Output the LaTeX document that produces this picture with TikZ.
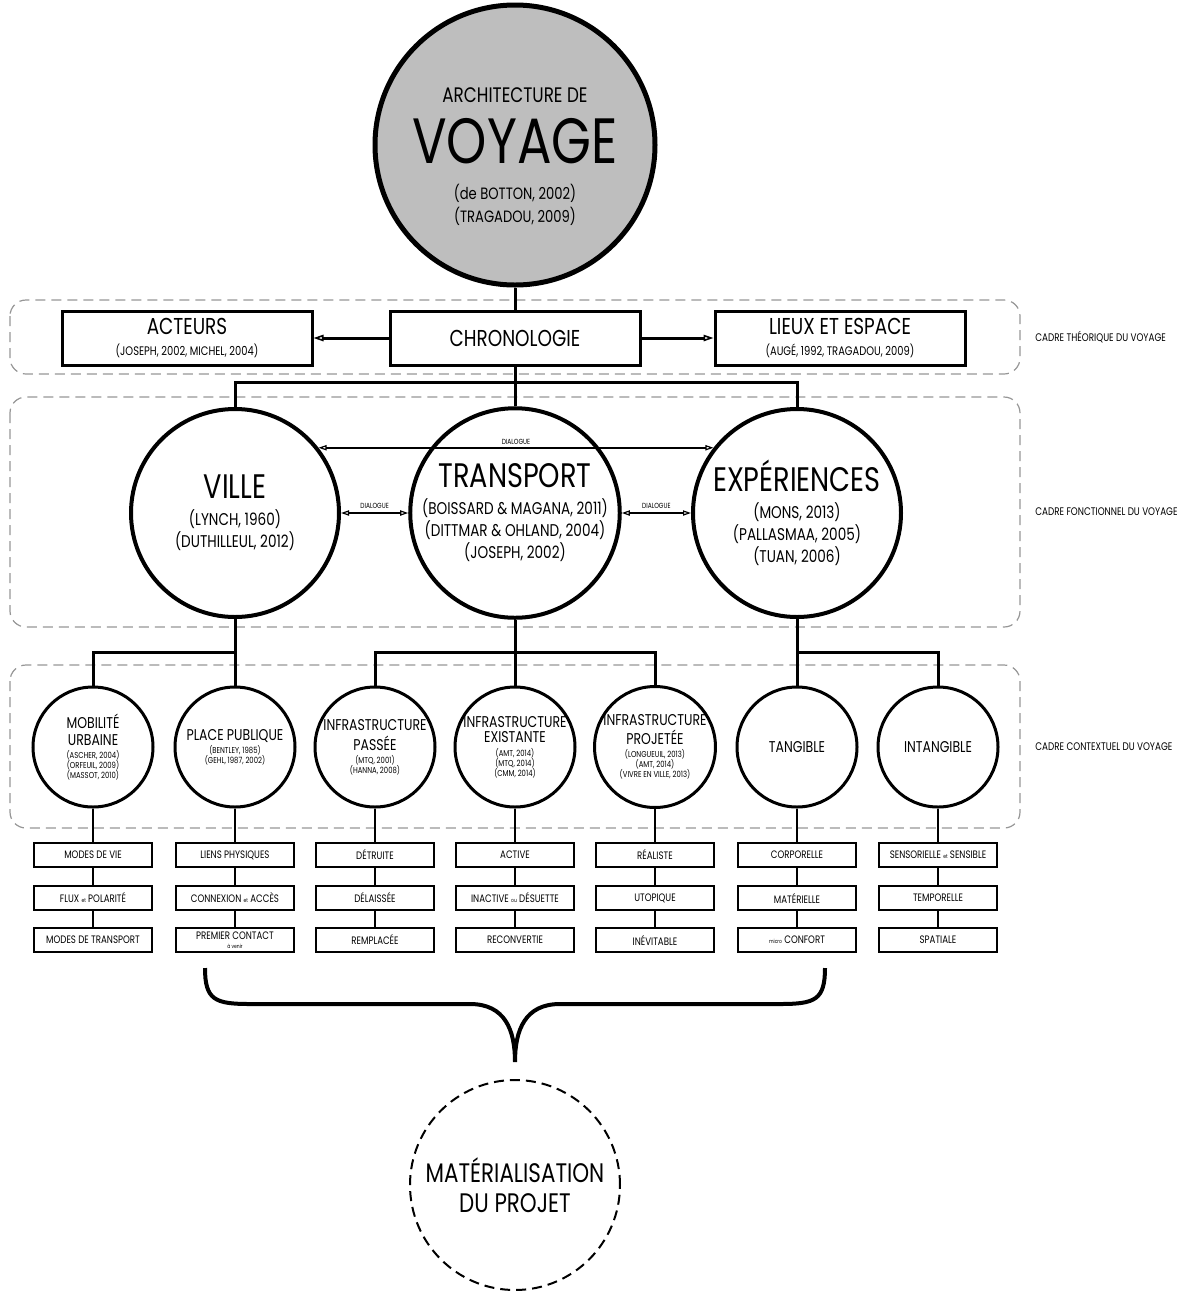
\documentclass[tikz,border=0pt]{standalone}
\usepackage{fontspec}
\setmainfont{Poppins}[FakeStretch=0.8]
\usepackage{tikz}
\usetikzlibrary{positioning,arrows.meta}
\definecolor{VoyageGrey}{RGB}{190,190,190}
\definecolor{FrameGrey}{RGB}{150,150,150}
\newcommand\fsz[2]{\fontsize{#1}{#2}\selectfont\lineskiplimit=-20pt\relax}
\newcommand\petit[1]{{\fontsize{2.8}{3}\selectfont #1}}
\newcommand\cttl[1]{{\fsz{7.8}{5}#1}}
\newcommand\pttl[1]{{\fsz{17}{5}#1}}
\newcommand\tttl[1]{{\fsz{11.5}{5}#1}}

\tikzset{
  link/.style={line width=1.5pt},
  leaflink/.style={line width=1.1pt},
  frame/.style={draw=FrameGrey, line width=0.6pt, dash pattern=on 5pt off 3pt, rounded corners=8pt},
  hub/.style={circle, draw, line width=2.5pt, fill=VoyageGrey, minimum size=140pt, inner sep=0pt},
  theme/.style={rectangle, draw, line width=1.5pt, minimum width=125pt, minimum height=27pt, align=center, font=\fsz{6.2}{10.75}},
  pillar/.style={circle, draw, line width=2pt, minimum size=104pt, inner sep=0pt, align=center, font=\fsz{8.5}{11}},
  facet/.style={circle, draw, line width=1.5pt, minimum size=60pt, inner sep=0pt, align=center, font=\fsz{4.3}{5}},
  leaf/.style={rectangle, draw, line width=1pt, minimum width=59pt, minimum height=12pt, inner sep=0.5pt, align=center, font=\fsz{5.4}{4.4}},
  opentip/.style={-{Triangle[open,length=5pt,width=3.2pt,line width=0.8pt]}},
  dialogue/.style={line width=0.8pt, {Triangle[open,length=4pt,width=2.6pt,line width=0.6pt]}-{Triangle[open,length=4pt,width=2.6pt,line width=0.6pt]}},
  dialabel/.style={font=\fsz{3.7}{3.7}, inner sep=1pt},
  sidelabel/.style={font=\fsz{5.5}{5.5}, anchor=west, inner sep=0pt},
  outcome/.style={circle, draw, line width=1pt, dash pattern=on 5pt off 3pt, minimum size=105pt, align=center, font=\fsz{13.4}{15}}
}

\begin{document}
\begin{tikzpicture}[x=0.5pt, y=-0.5pt]
  \useasboundingbox (0,0) rectangle (1191,1297);

  % cadres
  \draw[frame] (10,300) rectangle (1020,374);
  \draw[frame] (10,397) rectangle (1020,627);
  \draw[frame] (10,665) rectangle (1020,828);
  \node[sidelabel] (cadretheo) at (1035,337) {CADRE THÉORIQUE DU VOYAGE};
  \node[sidelabel] (cadrefonc) at (1035,512) {CADRE FONCTIONNEL DU VOYAGE};
  \node[sidelabel] (cadrecont) at (1035,747) {CADRE CONTEXTUEL DU VOYAGE};

  % architecture de voyage
  \node[hub] (voyage) at (515,145) {};
  \node[font=\fsz{8.2}{11.5}, align=center] (voyagetxt) at (515,157) {%
    {\fsz{10.5}{5}ARCHITECTURE DE}\\[19pt]{\fsz{32}{5}VOYAGE}\\[6.4pt](de BOTTON, 2002)\\(TRAGADOU, 2009)};

  % cadre theorique
  \node[theme] (chrono) at (515,338) {\tttl{CHRONOLOGIE}};
  \node[theme] (acteurs) at (187,338) {\tttl{ACTEURS}\\(JOSEPH, 2002, MICHEL, 2004)};
  \node[theme] (lieux) at (840,338) {\tttl{LIEUX ET ESPACE}\\(AUGÉ, 1992, TRAGADOU, 2009)};
  \draw[link] (voyage) -- (chrono);
  \draw[link, opentip] (chrono) -- (acteurs);
  \draw[link, opentip] (chrono) -- (lieux);

  % cadre fonctionnel
  \node[pillar] (ville) at (235,513) {\pttl{VILLE}\\[2.5pt](LYNCH, 1960)\\(DUTHILLEUL, 2012)};
  \node[pillar] (transport) at (515,513) {\pttl{TRANSPORT}\\[2.5pt](BOISSARD \& MAGANA, 2011)\\(DITTMAR \& OHLAND, 2004)\\(JOSEPH, 2002)};
  \node[pillar] (exper) at (797,513) {\pttl{EXPÉRIENCES}\\[2.5pt](MONS, 2013)\\(PALLASMAA, 2005)\\(TUAN, 2006)};
  \coordinate (jtop) at (515,382);
  \draw[link] (chrono) -- (jtop);
  \draw[link] (ville) |- (jtop) -| (exper);
  \draw[link] (jtop) -- (transport);
  \draw[dialogue] (ville.38) -- node[dialabel, above] (dlgtop) {DIALOGUE} (exper.142);
  \draw[dialogue] (ville) -- node[dialabel, above=1pt] (dlgvt) {DIALOGUE} (transport);
  \draw[dialogue] (transport) -- node[dialabel, above=1pt] (dlgte) {DIALOGUE} (exper);

  % cadre contextuel
  \node[facet] (mobil) at (93,747) {\cttl{MOBILITÉ}\\[3.5pt]\cttl{URBAINE}\\[1.3pt](ASCHER, 2004)\\(ORFEUIL, 2009)\\(MASSOT, 2010)};
  \node[facet] (place) at (235,747) {\cttl{PLACE PUBLIQUE}\\[1.3pt](BENTLEY, 1985)\\(GEHL, 1987, 2002)};
  \node[facet] (infpa) at (375,747) {\cttl{INFRASTRUCTURE}\\[5pt]\cttl{PASSÉE}\\[1.3pt](MTQ, 2001)\\(HANNA, 2008)};
  \node[facet] (infex) at (515,747) {\cttl{INFRASTRUCTURE}\\[2.5pt]\cttl{EXISTANTE}\\[2pt](AMT, 2014)\\(MTQ, 2014)\\(CMM, 2014)};
  \node[facet] (infpr) at (655,747) {\cttl{INFRASTRUCTURE}\\[4.5pt]\cttl{PROJETÉE}\\[1.3pt](LONGUEUIL, 2013)\\(AMT, 2014)\\(VIVRE EN VILLE, 2013)};
  \node[facet] (tang) at (797,747) {\cttl{TANGIBLE}};
  \node[facet] (intang) at (938,747) {\cttl{INTANGIBLE}};
  \coordinate (jv) at (235,652);
  \coordinate (jt) at (515,652);
  \coordinate (je) at (797,652);
  \draw[link] (ville) -- (place);
  \draw[link] (mobil) |- (jv);
  \draw[link] (transport) -- (infex);
  \draw[link] (infpa) |- (jt) -| (infpr);
  \draw[link] (exper) -- (tang);
  \draw[link] (intang) |- (je);

  % declinaisons
  \foreach \n/\x/\ta/\tb/\tc in {
      mobil/93/{MODES DE VIE}/{FLUX \petit{et} POLARITÉ}/{MODES DE TRANSPORT},
      place/235/{LIENS PHYSIQUES}/{CONNEXION \petit{et} ACCÈS}/{PREMIER CONTACT\\\petit{à venir}},
      infpa/375/{DÉTRUITE}/{DÉLAISSÉE}/{REMPLACÉE},
      infex/515/{ACTIVE}/{INACTIVE \petit{ou} DÉSUETTE}/{RECONVERTIE},
      infpr/655/{RÉALISTE}/{UTOPIQUE}/{INÉVITABLE},
      tang/797/{CORPORELLE}/{MATÉRIELLE}/{\petit{micro} CONFORT},
      intang/938/{SENSORIELLE \petit{et} SENSIBLE}/{TEMPORELLE}/{SPATIALE}} {
    \node[leaf] (\n-a) at (\x,855) {\ta};
    \node[leaf] (\n-b) at (\x,898) {\tb};
    \node[leaf] (\n-c) at (\x,940) {\tc};
    \draw[leaflink] (\n) -- (\n-a);
    \draw[leaflink] (\n-a) -- (\n-b);
    \draw[leaflink] (\n-b) -- (\n-c);
  }

  % accolade
  \draw[line width=2pt] (205,968) .. controls (205,1000) and (215,1004) .. (250,1004) -- (470,1004)
    .. controls (505,1004) and (515,1030) .. (515,1062)
    .. controls (515,1030) and (525,1004) .. (560,1004) -- (780,1004)
    .. controls (815,1004) and (825,1000) .. (825,968);

  % materialisation
  \node[outcome] (matproj) at (515,1185) {MATÉRIALISATION\\DU PROJET};
\end{tikzpicture}
\end{document}
